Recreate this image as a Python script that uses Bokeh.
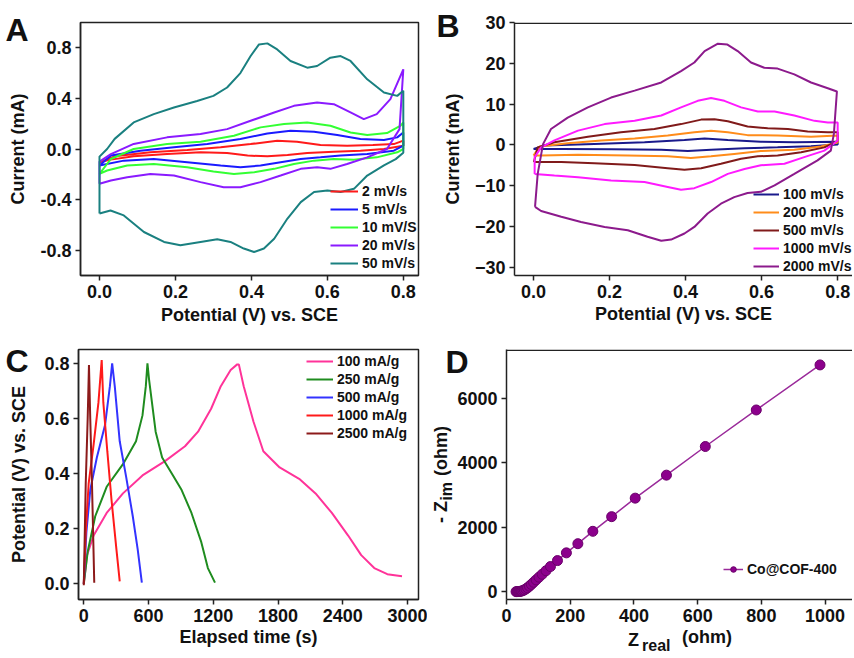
from bokeh.plotting import figure
from bokeh.models import (Range1d, FixedTicker, PrintfTickFormatter, Legend,
                          LegendItem, LinearAxis, Span)
from bokeh.layouts import column, row
from bokeh.embed import file_html
from bokeh.resources import INLINE

FONT = "Liberation Sans"
TXT = "#111111"

# ---------------- Panel A: CV at low scan rates (V, mA) ----------------
A_labels = ["2 mV/s", "5 mV/s", "10 mV/S", "20 mV/s", "50 mV/s"]
A_colors = ["#ff1a1a", "#1a1aff", "#33ff33", "#8a1aff", "#1a8080"]
A2_v = [0.0, 0.04, 0.134, 0.231, 0.319, 0.398, 0.468, 0.52, 0.582, 0.652, 0.72, 0.775, 0.80,
        0.80, 0.749, 0.687, 0.617, 0.547, 0.495, 0.442, 0.39, 0.336, 0.266, 0.178, 0.09, 0.03, 0.0]
A2_i = [-0.105, -0.058, -0.026, -0.008, 0.013, 0.039, 0.066, 0.058, 0.031, 0.026, 0.031, 0.039, 0.066,
        0.026, 0.0, -0.013, -0.021, -0.031, -0.047, -0.058, -0.052, -0.031, -0.026, -0.039, -0.058, -0.084, -0.105]
A5_v = [0.0, 0.03, 0.108, 0.196, 0.284, 0.371, 0.442, 0.503, 0.565, 0.626, 0.687, 0.749, 0.784, 0.80,
        0.80, 0.775, 0.705, 0.635, 0.582, 0.53, 0.477, 0.424, 0.371, 0.319, 0.231, 0.143, 0.064, 0.0]
A5_i = [-0.131, -0.052, -0.013, 0.013, 0.039, 0.079, 0.123, 0.144, 0.136, 0.11, 0.079, 0.071, 0.092, 0.131,
        0.026, -0.013, -0.039, -0.052, -0.066, -0.079, -0.105, -0.131, -0.144, -0.131, -0.105, -0.079, -0.092, -0.131]
A10_v = [0.0, 0.03, 0.09, 0.178, 0.266, 0.354, 0.424, 0.486, 0.547, 0.608, 0.661, 0.705, 0.757, 0.793, 0.80,
         0.80, 0.784, 0.73, 0.67, 0.617, 0.565, 0.512, 0.46, 0.407, 0.354, 0.30, 0.231, 0.143, 0.073, 0.02, 0.0]
A10_i = [-0.197, -0.079, 0.0, 0.039, 0.058, 0.105, 0.171, 0.197, 0.21, 0.184, 0.131, 0.11, 0.126, 0.184, 0.21,
         0.0, -0.026, -0.066, -0.084, -0.079, -0.092, -0.118, -0.157, -0.184, -0.197, -0.178, -0.144, -0.118, -0.131, -0.17, -0.197]
A20_v = [0.0, 0.0, 0.03, 0.09, 0.178, 0.266, 0.336, 0.398, 0.46, 0.512, 0.573, 0.617, 0.661, 0.696, 0.73, 0.766, 0.80,
         0.79, 0.757, 0.705, 0.652, 0.608, 0.573, 0.53, 0.477, 0.424, 0.371, 0.327, 0.266, 0.196, 0.134, 0.073, 0.03, 0.0]
A20_i = [-0.275, -0.10, -0.04, 0.04, 0.092, 0.118, 0.157, 0.223, 0.289, 0.341, 0.367, 0.354, 0.289, 0.236, 0.276, 0.394, 0.63,
         0.157, 0.0, -0.066, -0.118, -0.157, -0.144, -0.157, -0.21, -0.262, -0.302, -0.302, -0.262, -0.21, -0.197, -0.223, -0.249, -0.275]
A50_v = [0.0, 0.0, 0.02, 0.04, 0.09, 0.143, 0.196, 0.257, 0.30, 0.336, 0.371, 0.398, 0.42, 0.442, 0.468, 0.503,
         0.547, 0.573, 0.608, 0.635, 0.661, 0.705, 0.749, 0.784, 0.80, 0.80, 0.78, 0.749, 0.705, 0.67, 0.635, 0.60,
         0.565, 0.53, 0.495, 0.46, 0.433, 0.407, 0.38, 0.345, 0.31, 0.266, 0.213, 0.17, 0.117, 0.064, 0.029, 0.0]
A50_i = [-0.51, -0.06, 0.0, 0.08, 0.21, 0.276, 0.328, 0.38, 0.42, 0.486, 0.60, 0.735, 0.827, 0.835, 0.787, 0.696,
         0.643, 0.656, 0.722, 0.735, 0.696, 0.551, 0.446, 0.42, 0.46, -0.03, -0.08, -0.13, -0.21, -0.315, -0.34, -0.328,
         -0.34, -0.42, -0.55, -0.71, -0.787, -0.814, -0.787, -0.735, -0.714, -0.735, -0.761, -0.735, -0.656, -0.525, -0.486, -0.51]
A_x_ticks = [0.0, 0.2, 0.4, 0.6, 0.8]
A_y_ticks = [-0.8, -0.4, 0.0, 0.4, 0.8]

# ---------------- Panel B: CV at high scan rates (V, mA) ----------------
B_labels = ["100 mV/s", "200 mV/s", "500 mV/s", "1000 mV/s", "2000 mV/s"]
B_colors = ["#1a1a8c", "#ff8c1a", "#801a1a", "#ff1aff", "#8c1a8c"]
B100_v = [0.0, 0.03, 0.16, 0.292, 0.397, 0.45, 0.511, 0.598, 0.686, 0.80,
          0.80, 0.73, 0.642, 0.555, 0.467, 0.406, 0.336, 0.204, 0.073, 0.0]
B100_i = [-1.0, -0.15, 0.25, 0.65, 1.2, 1.6, 1.2, 0.8, 0.65, 0.8,
          0.1, -0.3, -0.6, -0.8, -1.2, -1.5, -1.2, -1.05, -1.0, -1.0]
B200_v = [0.0, 0.016, 0.09, 0.178, 0.266, 0.353, 0.423, 0.467, 0.511, 0.563, 0.642, 0.73, 0.80,
          0.80, 0.756, 0.686, 0.598, 0.528, 0.467, 0.414, 0.353, 0.248, 0.117, 0.02, 0.0]
B200_i = [-2.6, -0.4, 0.4, 1.1, 1.6, 2.3, 3.1, 3.5, 3.1, 2.4, 2.3, 2.0, 2.3,
          0.6, -0.4, -1.2, -1.5, -2.2, -2.8, -3.2, -2.8, -2.6, -2.4, -2.6, -2.6]
B500_v = [0.001, 0.011, 0.055, 0.143, 0.23, 0.318, 0.388, 0.441, 0.476, 0.511, 0.563, 0.616, 0.669, 0.721, 0.774, 0.80,
          0.80, 0.765, 0.704, 0.642, 0.59, 0.546, 0.493, 0.441, 0.397, 0.353, 0.266, 0.16, 0.073, 0.001]
B500_i = [-4.2, -0.6, 0.65, 2.0, 3.1, 3.9, 5.1, 6.2, 6.3, 5.8, 4.5, 4.1, 3.9, 3.3, 3.1, 3.1,
          1.0, -0.6, -1.8, -2.6, -2.8, -3.4, -4.6, -5.7, -6.1, -5.7, -4.9, -4.5, -4.2, -4.2]
B1000_v = [0.003, 0.003, 0.02, 0.055, 0.117, 0.187, 0.266, 0.336, 0.388, 0.432, 0.467, 0.502, 0.546, 0.59, 0.634,
           0.686, 0.739, 0.774, 0.80, 0.80, 0.765, 0.712, 0.66, 0.598, 0.555, 0.511, 0.467, 0.423, 0.388, 0.353,
           0.292, 0.204, 0.117, 0.055, 0.003]
B1000_i = [-7.1, -3.0, -0.6, 1.1, 3.5, 5.1, 5.9, 7.2, 9.2, 10.8, 11.5, 10.8, 9.2, 8.2, 8.2,
           7.2, 5.9, 5.5, 5.5, 1.1, -1.4, -3.0, -4.6, -5.0, -5.9, -7.1, -9.1, -10.6, -11.0, -10.3,
           -9.1, -8.7, -7.9, -7.5, -7.1]
B2000_v = [0.004, 0.011, 0.025, 0.046, 0.09, 0.143, 0.204, 0.266, 0.336, 0.388, 0.423, 0.45, 0.485, 0.51, 0.537,
           0.572, 0.607, 0.642, 0.686, 0.73, 0.774, 0.798, 0.79, 0.782, 0.747, 0.686, 0.634, 0.598, 0.563, 0.528,
           0.493, 0.458, 0.423, 0.397, 0.362, 0.336, 0.30, 0.248, 0.187, 0.125, 0.073, 0.02, 0.004]
B2000_i = [-15.2, -7.1, 0.2, 3.9, 6.7, 9.2, 11.6, 13.3, 15.3, 18.1, 20.2, 23.0, 24.8, 24.6, 23.0,
           20.2, 18.9, 18.7, 17.3, 15.3, 13.9, 13.1, 2.7, -1.4, -3.8, -7.1, -9.9, -11.5, -11.8, -12.8,
           -14.4, -16.8, -20.1, -21.7, -23.2, -23.5, -22.5, -20.9, -20.1, -18.9, -17.6, -16.2, -15.2]
B_x_ticks = [0.0, 0.2, 0.4, 0.6, 0.8]
B_y_ticks = [-30, -20, -10, 0, 10, 20, 30]

# ---------------- Panel C: GCD curves (s, V) ----------------
C_labels = ["100 mA/g", "250 mA/g", "500 mA/g", "1000 mA/g", "2500 mA/g"]
C_colors = ["#ff3399", "#1f8c1f", "#3333ff", "#ff1a1a", "#8c1a1a"]
C100_t = [0, 30, 91, 212, 363, 544, 756, 938, 1059, 1180, 1270, 1361, 1422, 1437, 1482, 1573, 1664,
          1815, 1996, 2148, 2299, 2450, 2571, 2692, 2813, 2949]
C100_v = [0.0, 0.104, 0.175, 0.257, 0.328, 0.393, 0.446, 0.499, 0.552, 0.635, 0.717, 0.776, 0.796, 0.796,
          0.717, 0.588, 0.481, 0.422, 0.381, 0.328, 0.257, 0.175, 0.104, 0.057, 0.035, 0.027]
C250_t = [0, 36, 106, 212, 363, 484, 544, 575, 590, 605, 666, 726, 817, 907, 998, 1089, 1150, 1216]
C250_v = [0.0, 0.116, 0.245, 0.352, 0.434, 0.517, 0.611, 0.717, 0.8, 0.741, 0.552, 0.458, 0.399, 0.34,
          0.257, 0.151, 0.057, 0.004]
C500_t = [0, 24, 60, 121, 197, 242, 263, 287, 333, 393, 454, 499, 538]
C500_v = [0.0, 0.186, 0.34, 0.458, 0.576, 0.717, 0.8, 0.717, 0.517, 0.387, 0.245, 0.127, 0.004]
C1000_t = [0, 18, 45, 91, 136, 166, 181, 218, 257, 302, 333]
C1000_v = [0.0, 0.186, 0.363, 0.505, 0.658, 0.812, 0.658, 0.481, 0.304, 0.127, 0.009]
C2500_t = [0, 18, 36, 48, 60, 76, 97]
C2500_v = [-0.005, 0.363, 0.599, 0.794, 0.599, 0.363, 0.004]
C_x_ticks = [0, 600, 1200, 1800, 2400, 3000]
C_y_ticks = [0.0, 0.2, 0.4, 0.6, 0.8]

# ---------------- Panel D: Nyquist plot (ohm) ----------------
D_label = "Co@COF-400"
D_zreal = [30, 33, 36, 39, 42, 45, 48, 52, 56, 61, 66, 72, 78, 85, 93, 102, 112, 124, 138,
           160, 188, 224, 271, 330, 404, 502, 624, 784, 984]
D_zim = [0, 0, 2, 4, 8, 14, 22, 35, 55, 85, 120, 170, 225, 290, 365, 450, 540, 650, 780,
         965, 1205, 1490, 1875, 2330, 2905, 3620, 4510, 5645, 7045]
D_x_ticks = [0, 200, 400, 600, 800, 1000]
D_y_ticks = [0, 2000, 4000, 6000]


def style_axis(ax, label_standoff=8):
    ax.axis_line_color = "#222222"
    ax.axis_line_width = 1.5
    ax.major_tick_line_color = "#222222"
    ax.major_tick_line_width = 1.5
    ax.major_tick_out = 5
    ax.major_tick_in = 0
    ax.minor_tick_out = 0
    ax.minor_tick_in = 0
    ax.major_label_standoff = 4
    ax.major_label_text_font = FONT
    ax.major_label_text_font_style = "bold"
    ax.major_label_text_font_size = "18px"
    ax.major_label_text_color = TXT
    ax.axis_label_text_font = FONT
    ax.axis_label_text_font_style = "bold"
    ax.axis_label_text_font_size = "18px"
    ax.axis_label_text_color = TXT
    ax.axis_label_standoff = label_standoff


def make_fig(w, h, xr, yr, bl, br, bt, bb, xticks, yticks, xfmt=None, yfmt=None,
             xlabel=None, ylabel=None, xls=4, yls=9, outline=True):
    p = figure(width=w, height=h, x_range=Range1d(*xr), y_range=Range1d(*yr),
               output_backend="svg", toolbar_location=None,
               min_border_left=bl, min_border_right=br,
               min_border_top=bt, min_border_bottom=bb)
    p.xgrid.visible = False
    p.ygrid.visible = False
    p.background_fill_color = "white"
    p.border_fill_color = "white"
    xa = p.below[0]
    ya = p.left[0]
    style_axis(xa, xls)
    style_axis(ya, yls)
    xa.ticker = FixedTicker(ticks=xticks)
    ya.ticker = FixedTicker(ticks=yticks)
    if xfmt:
        xa.formatter = PrintfTickFormatter(format=xfmt)
    if yfmt:
        ya.formatter = PrintfTickFormatter(format=yfmt)
    if xlabel:
        xa.axis_label = xlabel
    if ylabel:
        ya.axis_label = ylabel
    if outline:
        p.outline_line_color = "#222222"
        p.outline_line_width = 1.5
    else:
        # frame cut at the right edge: only a top border line
        p.outline_line_color = None
        px_per_unit = 254.0 / (yr[1] - yr[0])
        p.add_layout(Span(location=yr[1] - 0.75 / px_per_unit, dimension="width",
                          line_color="#222222", line_width=1.5))
    return p


def bare_axis(standoff):
    ax = LinearAxis()
    ax.axis_line_color = None
    ax.major_tick_line_color = None
    ax.minor_tick_line_color = None
    ax.major_tick_out = 0
    ax.major_tick_in = 0
    ax.minor_tick_out = 0
    ax.minor_tick_in = 0
    ax.major_label_standoff = standoff
    return ax


def add_text_axis(p, side, tick, text, standoff, size="18px", orient=None):
    """A text piece placed next to the plot through an extra (tick-less) axis."""
    ax = bare_axis(standoff)
    ax.ticker = FixedTicker(ticks=[tick])
    ax.formatter = PrintfTickFormatter(format=text)
    ax.major_label_text_font = FONT
    ax.major_label_text_font_style = "bold"
    ax.major_label_text_font_size = size
    ax.major_label_text_color = TXT
    if orient is not None:
        ax.major_label_orientation = orient
    p.add_layout(ax, side)


def add_title_axis(p, side, text, label_standoff):
    ax = bare_axis(0)
    ax.ticker = FixedTicker(ticks=[])
    ax.axis_label = text
    ax.axis_label_standoff = label_standoff
    ax.axis_label_text_font = FONT
    ax.axis_label_text_font_style = "bold"
    ax.axis_label_text_font_size = "18px"
    ax.axis_label_text_color = TXT
    p.add_layout(ax, side)


def add_legend(p, items, loc, gw):
    leg = Legend(items=items, location=loc, padding=0, margin=0, spacing=2,
                 glyph_width=gw, glyph_height=14, label_height=14, label_standoff=4,
                 label_text_font=FONT, label_text_font_style="bold",
                 label_text_font_size="14px", label_text_color=TXT,
                 border_line_color=None, background_fill_alpha=0)
    p.add_layout(leg)


# ---- A ----  canvas x 0..427, y 0..328 ; frame 80..418 x 20..275
pA = make_fig(427, 328, (-0.05, 0.84), (-1.0, 1.0), 80, 9, 20, 53, A_x_ticks, A_y_ticks,
              "%.1f", "%.1f", "Potential (V) vs. SCE", "Current (mA)", 4, 9)
itemsA = []
for lab, col, xs, ys in zip(A_labels, A_colors, [A2_v, A5_v, A10_v, A20_v, A50_v],
                            [A2_i, A5_i, A10_i, A20_i, A50_i]):
    r = pA.line(xs, ys, line_color=col, line_width=2)
    itemsA.append(LegendItem(label=lab, renderers=[r]))
add_legend(pA, itemsA, (250, 4), 28)
add_text_axis(pA, "left", 0.941, "A", -23, size="32px")

# ---- B ----  canvas x 427..852 ; frame 514..852 x 22..276
pB = make_fig(425, 328, (-0.05, 0.839), (-32, 30), 87, 0, 22, 52, B_x_ticks, B_y_ticks,
              "%.1f", None, "Potential (V) vs. SCE", "Current (mA)", 3, 9, outline=False)
itemsB = []
for lab, col, xs, ys in zip(B_labels, B_colors, [B100_v, B200_v, B500_v, B1000_v, B2000_v],
                            [B100_i, B200_i, B500_i, B1000_i, B2000_i]):
    r = pB.line(xs, ys, line_color=col, line_width=2)
    itemsB.append(LegendItem(label=lab, renderers=[r]))
add_legend(pB, itemsB, (239, 1), 26)
add_text_axis(pB, "left", 29.15, "B", -20, size="32px")

# ---- C ----  canvas x 0..427, y 328..656 ; frame 78..418 x 349..605
pC = make_fig(427, 328, (-49, 3102), (-0.057, 0.85), 78, 9, 21, 51, C_x_ticks, C_y_ticks,
              None, "%.1f", "Elapsed time (s)", "Potential (V) vs. SCE", 2, 12)
itemsC = []
for lab, col, xs, ys in zip(C_labels, C_colors, [C100_t, C250_t, C500_t, C1000_t, C2500_t],
                            [C100_v, C250_v, C500_v, C1000_v, C2500_v]):
    r = pC.line(xs, ys, line_color=col, line_width=2)
    itemsC.append(LegendItem(label=lab, renderers=[r]))
add_legend(pC, itemsC, (228, 158), 27)
add_text_axis(pC, "left", 0.809, "C", -22, size="32px")

# ---- D ----  canvas x 427..852 ; frame 512..852 x 348..603
pD = make_fig(425, 328, (0, 1086), (-244, 7524), 79, 0, 20, 53, D_x_ticks, D_y_ticks,
              outline=False)
rl = pD.line(D_zreal, D_zim, line_color="#9a2a9a", line_width=1.5)
rc = pD.scatter(D_zreal, D_zim, size=10, fill_color="#8c008c", line_color="#6a006a", line_width=1)
add_legend(pD, [LegendItem(label=D_label, renderers=[rl, rc])], (217, 22), 20)
# left side: panel letter, subscript "im", then "- Z     (ohm)"
add_text_axis(pD, "left", 7128, "D", -14, size="32px")
add_text_axis(pD, "left", 3119, "im", -13, size="16px", orient="vertical")
add_title_axis(pD, "left", "- Z" + "\u00a0" * 5 + "(ohm)", -15)
# bottom: pieces of "Z_real (ohm)"
add_text_axis(pD, "below", 629, "(ohm)", 2)
add_text_axis(pD, "below", 399, "Z", -20)
add_text_axis(pD, "below", 470, "real", -16, size="16px")

layout = column(row(pA, pB), row(pC, pD))
open("out.html", "w").write(file_html(layout, INLINE))
